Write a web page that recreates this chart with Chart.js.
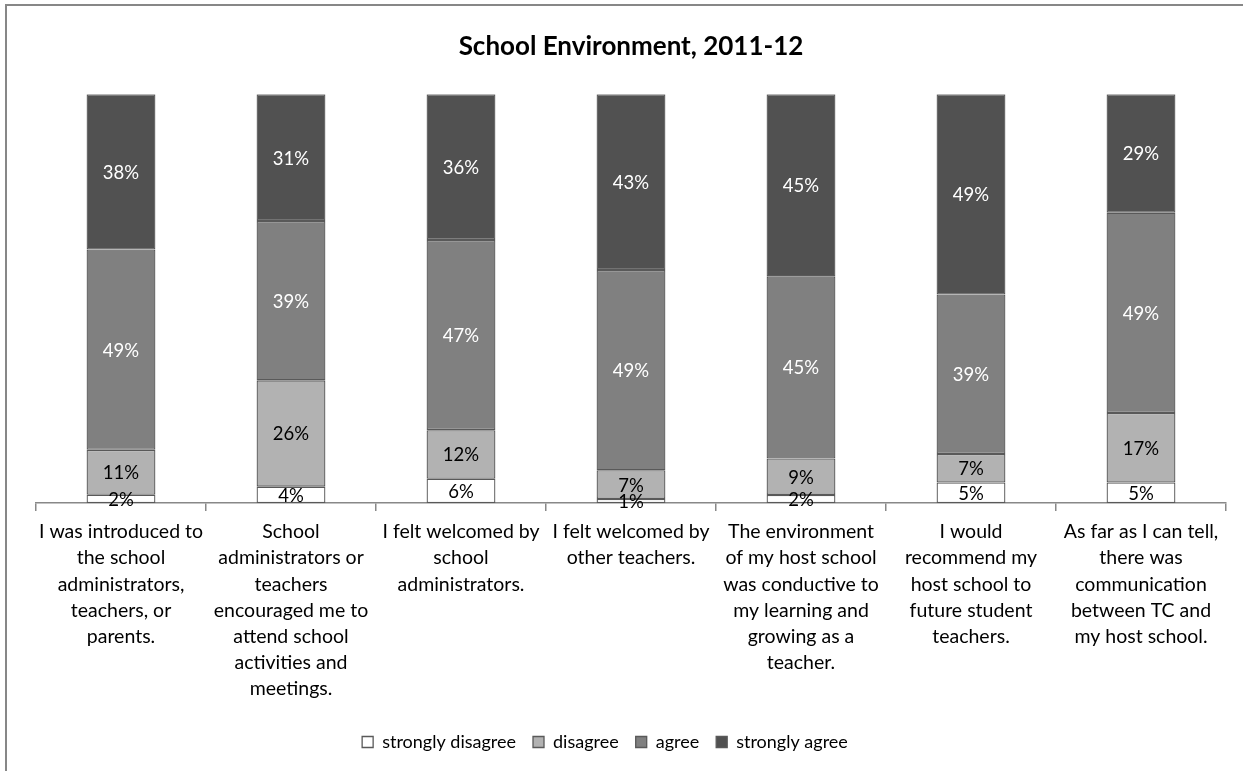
<!DOCTYPE html>
<html>
<head>
<meta charset="utf-8">
<title>School Environment, 2011-12</title>
<script src="https://cdn.jsdelivr.net/npm/chart.js@4.4.0/dist/chart.umd.min.js"></script>
<style>
	html, body { margin: 0; padding: 0; background: #fff; }
	#wrap { width: 1252px; height: 771px; }
</style>
</head>
<body>
<div id="wrap"><canvas id="chart" width="1252" height="771"></canvas></div>
<script>
// survey items, one label line per array entry
const statements = [
	['I was introduced to', 'the school', 'administrators,', 'teachers, or', 'parents.'],
	['School', 'administrators or', 'teachers', 'encouraged me to', 'attend school', 'activities and', 'meetings.'],
	['I felt welcomed by', 'school', 'administrators.'],
	['I felt welcomed by', 'other teachers.'],
	['The environment', 'of my host school', 'was conductive to', 'my learning and', 'growing as a', 'teacher.'],
	['I would', 'recommend my', 'host school to', 'future student', 'teachers.'],
	['As far as I can tell,', 'there was', 'communication', 'between TC and', 'my host school.'],
];

// percent of responses per item
const stronglyDisagree = [2, 4, 6, 1, 2, 5, 5];
const disagree = [11, 26, 12, 7, 9, 7, 17];
const agree = [49, 39, 47, 49, 45, 39, 49];
const stronglyAgree = [38, 31, 36, 43, 45, 49, 29];

const FONT = 'Lato, "Open Sans", sans-serif';

const series = [
	{ label: 'strongly disagree', values: stronglyDisagree, fill: '#ffffff', text: '#000' },
	{ label: 'disagree', values: disagree, fill: '#b2b2b2', text: '#000' },
	{ label: 'agree', values: agree, fill: '#808080', text: '#fff' },
	{ label: 'strongly agree', values: stronglyAgree, fill: '#515151', text: '#fff' },
];

// 100% stacked: each column is scaled to its own total
const totals = statements.map((_, i) => series.reduce((s, d) => s + d.values[i], 0));

// frame lines + white background
const frame = {
	id: 'frame',
	beforeDraw(c) {
		const ctx = c.ctx;
		ctx.save();
		ctx.fillStyle = '#fff';
		ctx.fillRect(0, 0, c.width, c.height);
		ctx.strokeStyle = '#878787';
		ctx.lineWidth = 2;
		ctx.beginPath();
		ctx.moveTo(6, c.height);
		ctx.lineTo(6, 5);
		ctx.lineTo(1243, 5);
		ctx.stroke();
		ctx.restore();
	},
};

// legend sits a bit left of the plot centre
const legendShift = {
	id: 'legendShift',
	afterLayout(c) {
		c.legend.left -= 26;
		c.legend.right -= 26;
	},
};

// percentage text centred in every segment
const segmentLabels = {
	id: 'segmentLabels',
	afterDatasetsDraw(c) {
		const ctx = c.ctx;
		ctx.save();
		ctx.font = '18.5px ' + FONT;
		ctx.textAlign = 'center';
		ctx.textBaseline = 'middle';
		c.data.datasets.forEach((ds, di) => {
			c.getDatasetMeta(di).data.forEach((bar, i) => {
				ctx.fillStyle = series[di].text;
				ctx.fillText(series[di].values[i] + '%', bar.x, (bar.y + bar.base) / 2 + 1);
			});
		});
		ctx.restore();
	},
};

new Chart(document.querySelector('#chart').getContext('2d'), {
	type: 'bar',
	data: {
		labels: statements,
		datasets: series.map(s => ({
			label: s.label,
			data: s.values.map((v, i) => v / totals[i] * 100),
			backgroundColor: s.fill,
			borderColor: '#595959',
			borderWidth: 1.3,
			borderSkipped: false,
			barPercentage: 0.405,
			categoryPercentage: 1,
		})),
	},
	options: {
		responsive: false,
		animation: false,
		layout: { padding: { left: 36, right: 26, top: 0, bottom: 10 } },
		scales: {
			x: {
				stacked: true,
				grid: { drawOnChartArea: false, drawTicks: true, tickLength: 8, color: '#888', lineWidth: 1.5 },
				border: { color: '#888', width: 1.5 },
				ticks: {
					color: '#000',
					font: { family: FONT, size: 19.5, lineHeight: 1.34 },
					padding: 8,
					maxRotation: 0,
					autoSkip: false,
				},
				afterFit(scale) { scale.height = 213; },
			},
			y: {
				stacked: true,
				display: false,
				min: 0,
				max: 100,
			},
		},
		plugins: {
			title: {
				display: true,
				text: 'School Environment, 2011-12',
				color: '#000',
				font: { family: FONT, size: 26, weight: 'bold' },
				padding: { top: 31, bottom: 32 },
			},
			legend: {
				position: 'bottom',
				labels: {
					color: '#000',
					font: { family: FONT, size: 18 },
					boxWidth: 11,
					boxHeight: 11,
					padding: 17,
				},
			},
			tooltip: { enabled: false },
		},
	},
	plugins: [frame, legendShift, segmentLabels],
});
</script>
</body>
</html>
